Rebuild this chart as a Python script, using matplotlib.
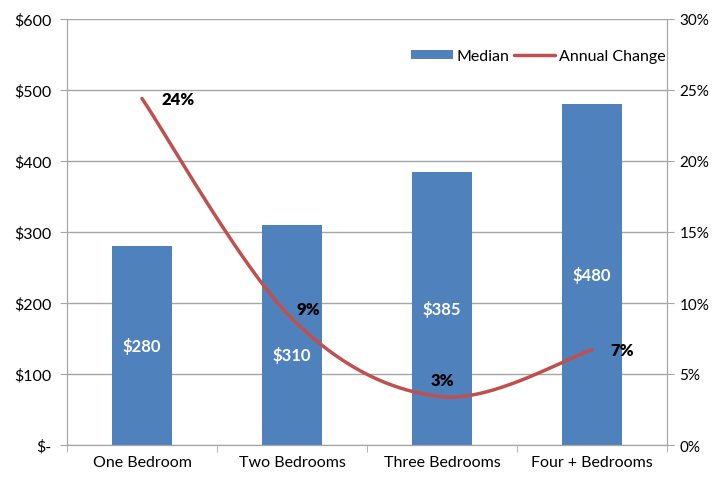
import numpy as np
import matplotlib
matplotlib.use('Agg')
import matplotlib.pyplot as plt
from matplotlib.ticker import FuncFormatter, FixedLocator

plt.rcParams['font.family'] = ['Lato', 'DejaVu Sans']

categories = ['One Bedroom', 'Two Bedrooms', 'Three Bedrooms', 'Four + Bedrooms']
median = [280, 310, 385, 480]
annual_change = [24.4, 8.9, 3.4, 6.7]
bar_labels = ['$280', '$310', '$385', '$480']
change_labels = ['24%', '9%', '3%', '7%']

bar_color = '#4F81BD'
line_color = '#C0504D'
grid_color = '#A6A6A6'


def smooth(xs, ys, n=60):
    # excel-like smoothed line (bezier through points)
    xs = np.asarray(xs, float)
    ys = np.asarray(ys, float)
    px = np.concatenate([[xs[0]], xs, [xs[-1]]])
    py = np.concatenate([[ys[0]], ys, [ys[-1]]])
    outx, outy = [], []
    for i in range(1, len(px) - 2):
        p0 = np.array([px[i], py[i]])
        p3 = np.array([px[i + 1], py[i + 1]])
        p1 = p0 + (np.array([px[i + 1], py[i + 1]]) - np.array([px[i - 1], py[i - 1]])) / 6
        p2 = p3 - (np.array([px[i + 2], py[i + 2]]) - np.array([px[i], py[i]])) / 6
        t = np.linspace(0, 1, n)[:, None]
        pts = (1 - t) ** 3 * p0 + 3 * (1 - t) ** 2 * t * p1 + 3 * (1 - t) * t ** 2 * p2 + t ** 3 * p3
        outx.extend(pts[:, 0])
        outy.extend(pts[:, 1])
    return np.array(outx), np.array(outy)


fig = plt.figure(figsize=(7.12, 4.81), dpi=100)
ax = fig.add_axes([67 / 712, 1 - 446 / 481, 600 / 712, 426 / 481])
x = np.arange(len(categories))

bars = ax.bar(x, median, width=0.4, color=bar_color, label='Median', zorder=2)
ax.set_xlim(-0.5, len(categories) - 0.5)
ax.set_ylim(0, 600)
ax.set_yticks(range(0, 601, 100))
ax.yaxis.set_major_formatter(FuncFormatter(lambda v, p: '$-' if v == 0 else '${:.0f}'.format(v)))
ax.grid(axis='y', color=grid_color, linewidth=1, zorder=0)
ax.set_axisbelow(True)

ax.set_xticks(x)
ax.set_xticklabels(categories)
ax.xaxis.set_minor_locator(FixedLocator(np.arange(-0.5, len(categories), 1)))
ax.tick_params(axis='x', which='major', length=0, pad=7, labelsize=11.5)
ax.tick_params(axis='x', which='minor', length=5, color=grid_color)
ax.tick_params(axis='y', length=5, color=grid_color, labelsize=11.5, pad=6)

for s in ['left', 'bottom', 'right']:
    ax.spines[s].set_color(grid_color)
ax.spines['top'].set_visible(False)

# bar value labels
label_pos = [m / 2 for m in median]
label_pos[1] = 128
for xi, yp, t in zip(x, label_pos, bar_labels):
    ax.text(xi, yp, t, color='white', ha='center', va='center', fontsize=12, fontweight='bold', zorder=4)

ax2 = ax.twinx()
ax2.set_ylim(0, 30)
ax2.set_yticks(range(0, 31, 5))
ax2.yaxis.set_major_formatter(FuncFormatter(lambda v, p: '{:.0f}%'.format(v)))
ax2.tick_params(axis='y', length=5, color=grid_color, labelsize=11, pad=4)
for s in ['left', 'bottom', 'right']:
    ax2.spines[s].set_color(grid_color)
ax2.spines['top'].set_visible(False)

sx, sy = smooth(x, annual_change)
ax2.plot(sx, sy, color=line_color, linewidth=2.5, label='Annual Change', solid_capstyle='round', zorder=3)

offsets = [(0.13, 24.4, 'left'), (0.03, 9.6, 'left'), (0.0, 4.6, 'center'), (0.12, 6.7, 'left')]
for xi, (dx, yv, ha), t in zip(x, offsets, change_labels):
    ax2.text(xi + dx, yv, t, color='black', ha=ha, va='center', fontsize=12, fontweight='heavy', zorder=4)

h1, l1 = ax.get_legend_handles_labels()
h2, l2 = ax2.get_legend_handles_labels()
ax2.legend(h1 + h2, l1 + l2, loc='upper right', bbox_to_anchor=(0.997, 0.93), frameon=False,
           ncol=2, fontsize=11.5, handlelength=2.6, handleheight=0.5, handletextpad=0.2,
           columnspacing=0.3, borderpad=0, borderaxespad=0)

fig.savefig('out.png', dpi=100)
